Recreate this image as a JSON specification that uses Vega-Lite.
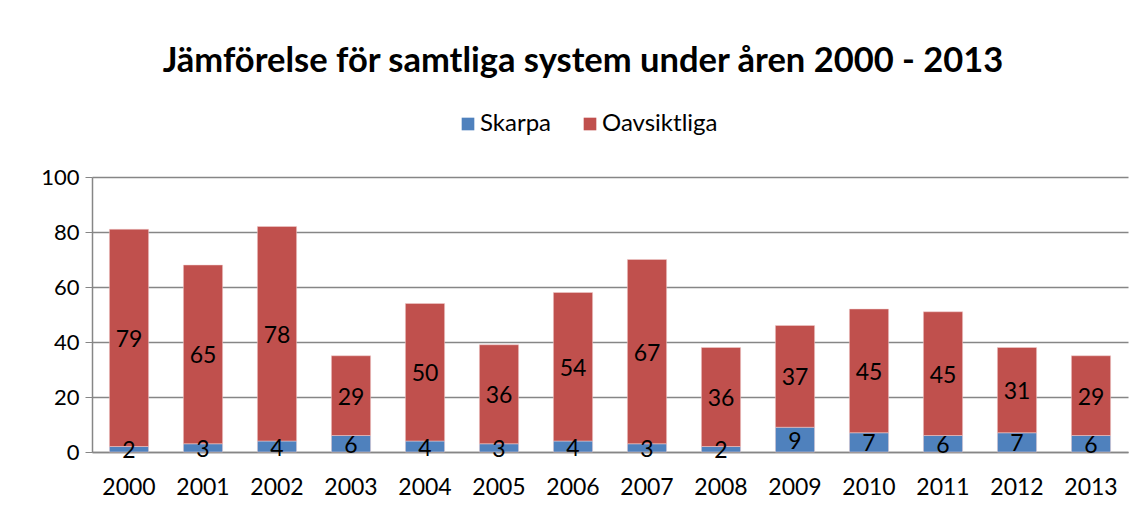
{
  "$schema": "https://vega.github.io/schema/vega-lite/v6.json",
  "width": 1036,
  "height": 275,
  "autosize": "none",
  "padding": {"left": 92, "top": 177, "right": 17, "bottom": 60},
  "background": "white",
  "title": {
    "text": "Jämförelse för samtliga system under åren 2000 - 2013",
    "font": "Lato",
    "fontSize": 34.5,
    "fontWeight": "bold",
    "color": "#000000",
    "anchor": "middle",
    "dx": -27,
    "offset": 33
  },
  "data": {
    "values": [
      {"year": "2000", "type": "Skarpa", "ord": 1, "value": 2},
      {"year": "2000", "type": "Oavsiktliga", "ord": 2, "value": 79},
      {"year": "2001", "type": "Skarpa", "ord": 1, "value": 3},
      {"year": "2001", "type": "Oavsiktliga", "ord": 2, "value": 65},
      {"year": "2002", "type": "Skarpa", "ord": 1, "value": 4},
      {"year": "2002", "type": "Oavsiktliga", "ord": 2, "value": 78},
      {"year": "2003", "type": "Skarpa", "ord": 1, "value": 6},
      {"year": "2003", "type": "Oavsiktliga", "ord": 2, "value": 29},
      {"year": "2004", "type": "Skarpa", "ord": 1, "value": 4},
      {"year": "2004", "type": "Oavsiktliga", "ord": 2, "value": 50},
      {"year": "2005", "type": "Skarpa", "ord": 1, "value": 3},
      {"year": "2005", "type": "Oavsiktliga", "ord": 2, "value": 36},
      {"year": "2006", "type": "Skarpa", "ord": 1, "value": 4},
      {"year": "2006", "type": "Oavsiktliga", "ord": 2, "value": 54},
      {"year": "2007", "type": "Skarpa", "ord": 1, "value": 3},
      {"year": "2007", "type": "Oavsiktliga", "ord": 2, "value": 67},
      {"year": "2008", "type": "Skarpa", "ord": 1, "value": 2},
      {"year": "2008", "type": "Oavsiktliga", "ord": 2, "value": 36},
      {"year": "2009", "type": "Skarpa", "ord": 1, "value": 9},
      {"year": "2009", "type": "Oavsiktliga", "ord": 2, "value": 37},
      {"year": "2010", "type": "Skarpa", "ord": 1, "value": 7},
      {"year": "2010", "type": "Oavsiktliga", "ord": 2, "value": 45},
      {"year": "2011", "type": "Skarpa", "ord": 1, "value": 6},
      {"year": "2011", "type": "Oavsiktliga", "ord": 2, "value": 45},
      {"year": "2012", "type": "Skarpa", "ord": 1, "value": 7},
      {"year": "2012", "type": "Oavsiktliga", "ord": 2, "value": 31},
      {"year": "2013", "type": "Skarpa", "ord": 1, "value": 6},
      {"year": "2013", "type": "Oavsiktliga", "ord": 2, "value": 29}
    ]
  },
  "transform": [
    {"stack": "value", "groupby": ["year"], "sort": [{"field": "ord", "order": "ascending"}], "as": ["v0", "v1"]},
    {"calculate": "(datum.v0 + datum.v1) / 2", "as": "mid"}
  ],
  "encoding": {
    "x": {
      "field": "year",
      "type": "ordinal",
      "scale": {"paddingInner": 0.47, "paddingOuter": 0.235},
      "axis": {
        "title": null,
        "labelAngle": 0,
        "labelFont": "Lato",
        "labelFontSize": 23,
        "labelColor": "#000000",
        "labelPadding": 24,
        "ticks": false,
        "domainColor": "#868686",
        "domainWidth": 1.5,
        "grid": false
      }
    }
  },
  "layer": [
    {
      "mark": {"type": "bar", "stroke": "#f0d0d0", "strokeWidth": 0.5},
      "encoding": {
        "y": {
          "field": "v0",
          "type": "quantitative",
          "scale": {"domain": [0, 100]},
          "axis": {
            "title": null,
            "values": [0, 20, 40, 60, 80, 100],
            "labelFont": "Lato",
            "labelFontSize": 22,
            "labelColor": "#000000",
            "labelPadding": 6,
            "tickSize": 7,
            "tickColor": "#868686",
            "domainColor": "#868686",
            "domainWidth": 1.5,
            "gridColor": "#868686",
            "gridWidth": 1.5
          }
        },
        "y2": {"field": "v1"},
        "color": {
          "field": "type",
          "type": "nominal",
          "scale": {"domain": ["Skarpa", "Oavsiktliga"], "range": ["#4F81BD", "#C0504D"]},
          "legend": {
            "title": null,
            "orient": "none",
            "direction": "horizontal",
            "legendX": 364,
            "legendY": -65,
            "symbolType": "square",
            "symbolSize": 160,
            "symbolStrokeWidth": 0,
            "labelFont": "Lato",
            "labelFontSize": 24,
            "labelColor": "#000000",
            "columnPadding": 26,
            "labelOffset": 0
          }
        }
      }
    },
    {
      "mark": {"type": "text", "font": "Lato", "fontSize": 23, "color": "#000000", "baseline": "middle", "dy": 2},
      "encoding": {
        "y": {"field": "mid", "type": "quantitative"},
        "text": {"field": "value", "type": "quantitative"}
      }
    }
  ],
  "config": {
    "view": {"stroke": null}
  }
}
